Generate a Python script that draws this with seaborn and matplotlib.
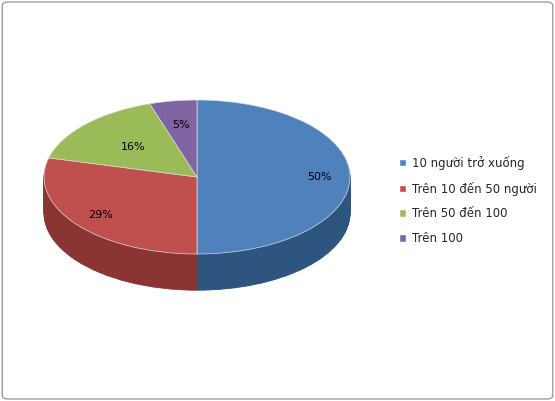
import matplotlib
matplotlib.use("Agg")
import matplotlib.pyplot as plt
import seaborn as sns
import numpy as np
from matplotlib.patches import FancyBboxPatch, Patch

sns.set_style("white")
plt.rcParams['font.family'] = ['DejaVu Sans']

categories = ['10 người trở xuống', 'Trên 10 đến 50 người', 'Trên 50 đến 100', 'Trên 100']
values = [50, 29, 16, 5]
colors = ['#4F81BD', '#C0504D', '#9BBB59', '#8064A2']
side_colors = ['#2E5480', '#8A3533', '#6E8A3C', '#5A4678']

fig = plt.figure(figsize=(5.55, 4.01), dpi=100)
ax = fig.add_axes([0, 0, 1, 1])

# fake 3D depth: stacked shifted pies
depth = 0.47
for d in np.linspace(depth, 0.01, 40):
    ax.pie(values, colors=side_colors, startangle=90, counterclock=False,
           center=(0, -d), radius=1, frame=True,
           wedgeprops={'linewidth': 0.6, 'edgecolor': None})
    for w, c in zip(ax.patches[-4:], side_colors):
        w.set_edgecolor(c)
wedges, texts, autotexts = ax.pie(values, colors=colors, startangle=90, counterclock=False,
                                  center=(0, 0), radius=1, frame=True,
                                  autopct='%1.0f%%', pctdistance=0.8,
                                  wedgeprops={'linewidth': 0.5, 'edgecolor': '#dddddd'},
                                  textprops={'fontsize': 8, 'color': 'black'})
# nudge small-slice labels inward like the reference
for t, f in zip(autotexts, [1.0, 1.0, 0.72, 0.85]):
    x, y = t.get_position()
    t.set_position((x * f, y * f))

ax.set_aspect('auto')
ax.set_xlim(-1.288, 2.340)
ax.set_ylim(-2.909, 2.299)
ax.axis('off')

handles = [Patch(facecolor=c, label=l) for c, l in zip(colors, categories)]
fig.legend(handles=handles, loc='center left', bbox_to_anchor=(0.70, 0.50),
           frameon=False, fontsize=8.5, handlelength=0.6, handleheight=0.6,
           labelspacing=1.0, handletextpad=0.5)

fig.patches.append(FancyBboxPatch((0.004, 0.005), 0.992, 0.99, boxstyle="round,pad=0,rounding_size=0.01",
                                  transform=fig.transFigure, fill=False, edgecolor='#888888', lw=0.8))

fig.savefig('out.png', dpi=100)
